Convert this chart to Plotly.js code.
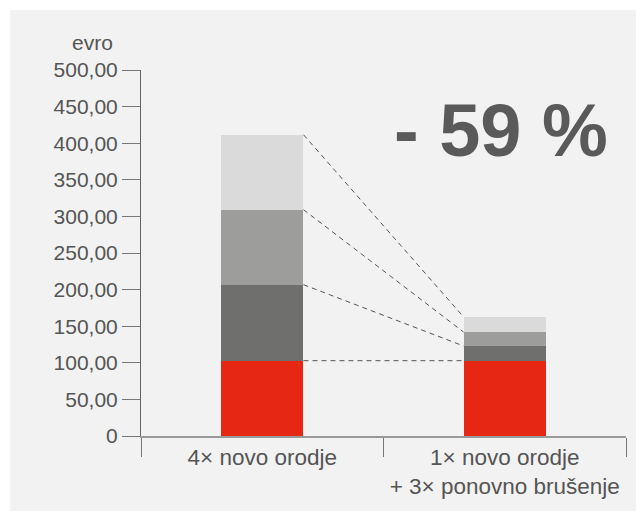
<!DOCTYPE html>
<html>
<head>
<meta charset="utf-8">
<script src="https://cdn.plot.ly/plotly-3.0.1.min.js"></script>
<style>
  html, body { margin: 0; padding: 0; background: #ffffff; }
  #chart { position: absolute; left: 10px; top: 10px; width: 626px; height: 501px; }
</style>
</head>
<body>
<div id="chart"></div>
<script>
const categories = ['4× novo orodje', '1× novo orodje<br>+ 3× ponovno brušenje'];
const redValues = [102.9, 102.9];
const darkValues = [103.8, 20.1];
const midValues = [102.5, 19.1];
const lightValues = [102.4, 20.6];
const yTickVals = [0, 50, 100, 150, 200, 250, 300, 350, 400, 450, 500];
const yTickText = ['0', '50,00', '100,00', '150,00', '200,00', '250,00', '300,00', '350,00', '400,00', '450,00', '500,00'];
const yTitle = 'evro';
const changeLabel = '- 59 %';

const layers = [
  { vals: redValues, color: '#e52713' },
  { vals: darkValues, color: '#6f6f6e' },
  { vals: midValues, color: '#9d9d9c' },
  { vals: lightValues, color: '#dadada' }
];

const traces = layers.map(l => ({
  type: 'bar',
  x: categories,
  y: l.vals,
  marker: { color: l.color, line: { width: 0 } },
  hoverinfo: 'skip'
}));

const barWidth = 0.34;
const half = barWidth / 2;
const shapes = [];
let cumL = 0, cumR = 0;
layers.forEach(l => {
  cumL += l.vals[0];
  cumR += l.vals[1];
  shapes.push({
    type: 'line', xref: 'x', yref: 'y',
    x0: 0 + half, y0: cumL, x1: 1 - half, y1: cumR,
    line: { color: '#555555', width: 1, dash: '5px,4px' }
  });
});

const font = { family: 'Liberation Sans, Arial, sans-serif', size: 21, color: '#555555' };

const layout = {
  width: 626, height: 501,
  margin: { l: 131, r: 10, t: 60, b: 75 },
  paper_bgcolor: '#f2f2f2',
  plot_bgcolor: '#f2f2f2',
  barmode: 'stack',
  bargap: 1 - barWidth,
  showlegend: false,
  font: font,
  xaxis: {
    type: 'category',
    showline: true, linecolor: '#999999', linewidth: 2,
    ticks: 'outside', tickson: 'boundaries', ticklen: 19, tickcolor: '#777777', tickwidth: 1,
    tickangle: 0,
    showgrid: false, zeroline: false,
    tickfont: { family: font.family, size: 22.5, color: '#555555' }
  },
  yaxis: {
    range: [0, 500],
    showline: true, linecolor: '#666666', linewidth: 1,
    ticks: 'outside', ticklen: 18, tickcolor: '#777777', tickwidth: 1,
    tickvals: yTickVals, ticktext: yTickText,
    showgrid: false, zeroline: false,
    tickfont: { family: font.family, size: 21, color: '#555555' }
  },
  shapes: shapes,
  annotations: [
    {
      text: yTitle, xref: 'paper', yref: 'paper',
      x: -0.099, y: 1.0765, xanchor: 'center', yanchor: 'middle',
      showarrow: false, font: { family: font.family, size: 21, color: '#555555' }
    },
    {
      text: '<b>' + changeLabel + '</b>', xref: 'paper', yref: 'paper',
      x: 0.742, y: 0.836, xanchor: 'center', yanchor: 'middle',
      showarrow: false, font: { family: font.family, size: 74, color: '#5a5a5a' }
    }
  ]
};

Plotly.newPlot('chart', traces, layout, { displayModeBar: false, staticPlot: true });
</script>
</body>
</html>
